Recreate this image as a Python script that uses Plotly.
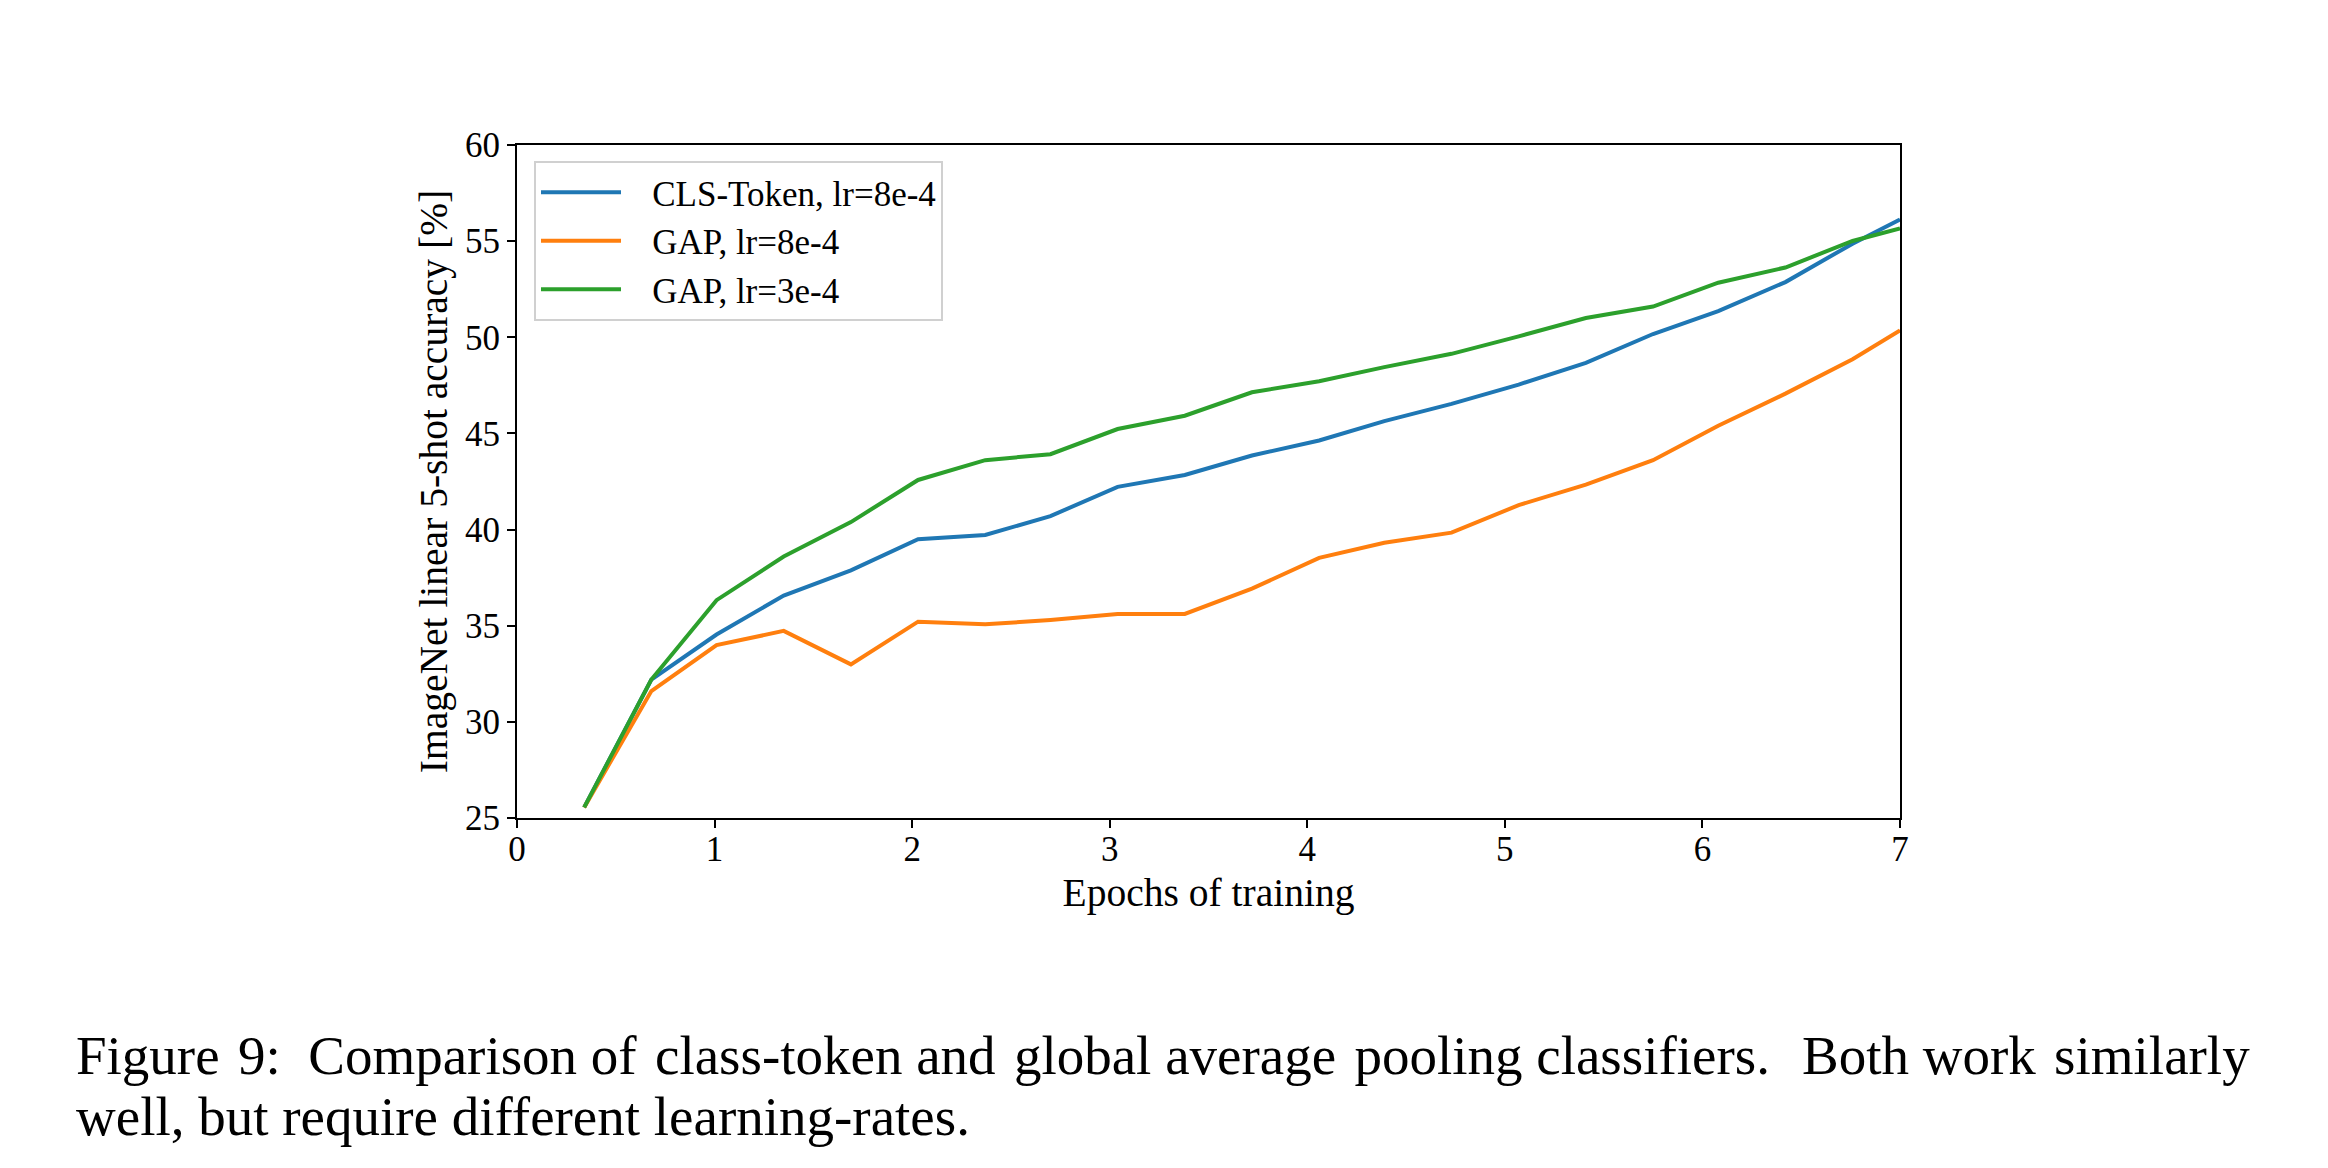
import plotly.graph_objects as go

# Data
epochs = [0.34, 0.68, 1.01, 1.35, 1.69, 2.03, 2.37, 2.70, 3.04, 3.38, 3.72,
          4.06, 4.39, 4.73, 5.07, 5.41, 5.75, 6.08, 6.42, 6.76, 7.0]
cls_token_8e4 = [25.55, 32.2, 34.54, 36.57, 37.88, 39.5, 39.72, 40.7, 42.22, 42.84, 43.85,
                 44.63, 45.64, 46.54, 47.54, 48.67, 50.17, 51.36, 52.87, 54.87, 56.13]
gap_8e4 = [25.55, 31.6, 33.99, 34.73, 32.99, 35.21, 35.07, 35.3, 35.61, 35.61, 36.93,
           38.53, 39.31, 39.84, 41.27, 42.34, 43.61, 45.4, 47.07, 48.86, 50.36]
gap_3e4 = [25.55, 32.2, 36.33, 38.6, 40.39, 42.58, 43.61, 43.92, 45.23, 45.92, 47.14,
           47.71, 48.45, 49.14, 50.05, 51.0, 51.6, 52.84, 53.63, 55.01, 55.66]

series_names = ["CLS-Token, lr=8e-4", "GAP, lr=8e-4", "GAP, lr=3e-4"]
series_values = [cls_token_8e4, gap_8e4, gap_3e4]
colors = ["#1f77b4", "#ff7f0e", "#2ca02c"]

x_ticks = [0, 1, 2, 3, 4, 5, 6, 7]
y_ticks = [25, 30, 35, 40, 45, 50, 55, 60]

HS = "\u200a"
caption_line1 = ("Figure" + HS + " 9:  Comparison of" + HS + " class-token and" + HS +
                 " global average" + HS + " pooling classifiers." + HS + "  Both work" + HS +
                 " similarly")
caption_line2 = "well, but require different learning-rates."

FONT = "Liberation Serif, Times New Roman, serif"
OFF = 8  # default page body margin
W, H = 2328 - 2 * OFF, 1168 - 2 * OFF
L, R, T, B = 517 - OFF, 1900 - OFF, 145 - OFF, 818 - OFF

fig = go.Figure()
NB = "\u00a0\u00a0\u00a0"
for name, vals, col in zip(series_names, series_values, colors):
    fig.add_trace(go.Scatter(x=epochs, y=vals, mode="lines", name=NB + name,
                             line=dict(color=col, width=4)))

axis_common = dict(showgrid=False, zeroline=False, showline=True, linecolor="black",
                   linewidth=2, mirror=True, ticks="outside", ticklen=8, tickwidth=2,
                   tickcolor="black", tickfont=dict(family=FONT, size=35, color="black"))

fig.update_xaxes(range=[0, 7], tickvals=x_ticks, ticktext=[str(v) for v in x_ticks],
                 ticklabelstandoff=-9,
                 title=dict(text="Epochs of training", font=dict(family=FONT, size=39.5, color="black"),
                            standoff=10),
                 **axis_common)
fig.update_yaxes(range=[25, 60], tickvals=y_ticks, ticktext=[str(v) for v in y_ticks],
                 title=dict(text="ImageNet linear 5-shot accuracy [%]",
                            font=dict(family=FONT, size=39.5, color="black"), standoff=5),
                 **axis_common)

pw, ph = R - L, B - T
fig.update_layout(
    width=W, height=H,
    margin=dict(l=L, r=W - R, t=T, b=H - B, pad=0),
    paper_bgcolor="white", plot_bgcolor="white",
    font=dict(family=FONT, color="black"),
    showlegend=True,
    legend=dict(x=17 / pw, y=(ph - 16) / ph, xanchor="left", yanchor="top",
                bgcolor="white", bordercolor="#d0d0d0", borderwidth=2,
                font=dict(family=FONT, size=35, color="black"),
                itemwidth=80, tracegroupgap=0),
    annotations=[
        dict(text=caption_line1, xref="paper", yref="paper",
             x=(74 - OFF - L) / pw, y=(B - (1055 - OFF)) / ph, xanchor="left", yanchor="middle",
             showarrow=False, font=dict(family=FONT, size=55, color="black")),
        dict(text=caption_line2, xref="paper", yref="paper",
             x=(74 - OFF - L) / pw, y=(B - (1116 - OFF)) / ph, xanchor="left", yanchor="middle",
             showarrow=False, font=dict(family=FONT, size=55, color="black")),
    ],
)

fig.write_html("out.html")
